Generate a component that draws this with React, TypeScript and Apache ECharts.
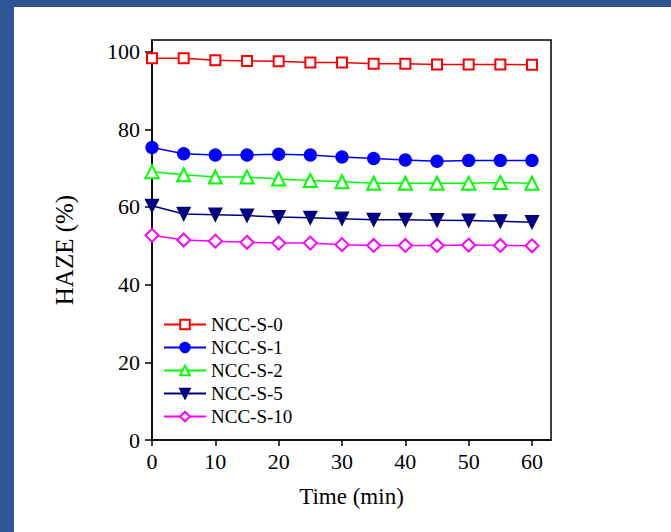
import React, { useEffect, useRef } from "react";
import * as echarts from "echarts";

const times = [0, 5, 10, 15, 20, 25, 30, 35, 40, 45, 50, 55, 60];
const s0 = [98.3, 98.3, 97.8, 97.6, 97.5, 97.2, 97.2, 96.9, 96.9, 96.7, 96.7, 96.7, 96.6];
const s1 = [75.3, 73.7, 73.4, 73.4, 73.6, 73.4, 72.9, 72.5, 72.1, 71.8, 72.0, 72.0, 72.0];
const s2 = [69.1, 68.3, 67.7, 67.7, 67.2, 66.8, 66.5, 66.1, 66.1, 66.1, 66.1, 66.3, 66.1];
const s5 = [60.3, 58.2, 58.0, 57.8, 57.4, 57.2, 57.0, 56.7, 56.7, 56.6, 56.5, 56.3, 56.1];
const s10 = [52.7, 51.5, 51.2, 50.9, 50.7, 50.7, 50.3, 50.1, 50.1, 50.1, 50.2, 50.1, 50.0];
const seriesNames = ["NCC-S-0", "NCC-S-1", "NCC-S-2", "NCC-S-5", "NCC-S-10"];
const xTicks = [0, 10, 20, 30, 40, 50, 60];
const yTicks = [0, 20, 40, 60, 80, 100];

const FONT = "Liberation Serif";

export default function App() {
  const ref = useRef<HTMLDivElement>(null);
  useEffect(() => {
    if (!ref.current) return;
    const chart = echarts.init(ref.current, null, { renderer: "svg" });
    const mk = (name: string, vals: number[], color: string, symbol: string, size: number, rotate = 0) => ({
      name,
      type: "line",
      data: times.map((t, i) => [t, vals[i]]),
      symbol,
      symbolSize: size,
      symbolRotate: rotate,
      showSymbol: true,
      lineStyle: { color, width: 1.5 },
      itemStyle: { color, borderColor: color, borderWidth: 1.3 },
      z: 3,
    });
    chart.setOption({
      animation: false,
      backgroundColor: "#ffffff",
      textStyle: { fontFamily: FONT },
      graphic: [
        { type: "rect", left: 0, top: 0, shape: { width: 671, height: 7 }, style: { fill: "#2f5597" }, z: 100 },
        { type: "rect", left: 0, top: 0, shape: { width: 14, height: 532 }, style: { fill: "#2f5597" }, z: 100 },
      ],
      grid: {
        left: 152,
        top: 40,
        right: 120,
        bottom: 92,
        show: true,
        borderColor: "#000",
        borderWidth: 1.5,
        backgroundColor: "transparent",
      },
      legend: {
        orient: "vertical",
        left: 163,
        top: 315,
        padding: 0,
        itemWidth: 42,
        itemHeight: 12,
        itemGap: 4,
        data: seriesNames,
        textStyle: { fontFamily: FONT, fontSize: 19, fontWeight: "normal", color: "#000", lineHeight: 19 },
      },
      xAxis: {
        type: "value",
        min: 0,
        max: 63,
        name: "Time (min)",
        nameLocation: "middle",
        nameGap: 45,
        nameTextStyle: { fontFamily: FONT, fontSize: 23, fontWeight: "normal", color: "#000" },
        axisLine: { show: true, lineStyle: { color: "#000", width: 1.5 } },
        axisTick: { show: true, inside: false, length: 6, lineStyle: { color: "#000", width: 1.5 }, customValues: xTicks },
        axisLabel: { fontFamily: FONT, fontSize: 22, color: "#000", margin: 10, customValues: xTicks },
        splitLine: { show: false },
      },
      yAxis: {
        type: "value",
        min: 0,
        max: 103,
        name: "HAZE (%)",
        nameLocation: "middle",
        nameGap: 75,
        nameTextStyle: { fontFamily: FONT, fontSize: 25, fontWeight: "normal", color: "#000", padding: [0, 20, 0, 0] },
        axisLine: { show: true, lineStyle: { color: "#000", width: 1.5 } },
        axisTick: { show: true, inside: false, length: 7, lineStyle: { color: "#000", width: 1.5 }, customValues: yTicks },
        axisLabel: { fontFamily: FONT, fontSize: 22, color: "#000", margin: 12, customValues: yTicks },
        splitLine: { show: false },
      },
      series: [
        mk(seriesNames[0], s0, "#ff0000", "emptyRect", 10),
        mk(seriesNames[1], s1, "#0000ff", "circle", 12),
        mk(seriesNames[2], s2, "#00ff00", "emptyTriangle", 13),
        mk(seriesNames[3], s5, "#000080", "triangle", 13, 180),
        mk(seriesNames[4], s10, "#ff00ff", "emptyDiamond", 13),
      ],
    });
    return () => chart.dispose();
  }, []);
  return (
    <div style={{ position: "fixed", left: 0, top: 0, width: 671, height: 532 }}>
      <div ref={ref} style={{ width: 671, height: 532 }} />
    </div>
  );
}
